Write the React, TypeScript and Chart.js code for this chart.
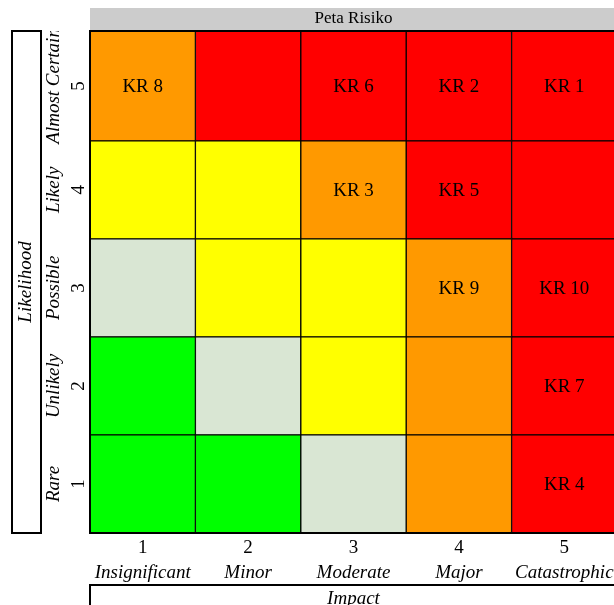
import { useEffect, useRef } from "react"
import { Chart, registerables } from "chart.js"

Chart.register(...registerables)

// Sumbu
const impactLevels = ["1", "2", "3", "4", "5"]
const impactNames = ["Insignificant", "Minor", "Moderate", "Major", "Catastrophic"]
const likelihoodLevels = [1, 2, 3, 4, 5]
const likelihoodNames = ["Rare", "Unlikely", "Possible", "Likely", "Almost Certain"]

// Tingkat risiko per baris (likelihood 1..5), kolom = impact 1..5
const levelRow1 = ["low", "low", "medium", "high", "extreme"]
const levelRow2 = ["low", "medium", "moderate", "high", "extreme"]
const levelRow3 = ["medium", "moderate", "moderate", "high", "extreme"]
const levelRow4 = ["moderate", "moderate", "high", "extreme", "extreme"]
const levelRow5 = ["high", "extreme", "extreme", "extreme", "extreme"]
const levelRows = [levelRow1, levelRow2, levelRow3, levelRow4, levelRow5]

const levelColors: Record<string, string> = {
  low: "#00FF00",
  medium: "#D9E6D3",
  moderate: "#FFFF00",
  high: "#FF9900",
  extreme: "#FF0000",
}

// Risiko kunci
const riskIds = ["KR 1", "KR 2", "KR 3", "KR 4", "KR 5", "KR 6", "KR 7", "KR 8", "KR 9", "KR 10"]
const riskImpact = [5, 4, 3, 5, 4, 3, 5, 1, 4, 5]
const riskLikelihood = [5, 5, 4, 1, 4, 5, 2, 5, 3, 3]

const yMax = 5.62
const serif = "'Liberation Serif', 'Times New Roman', serif"

const rowRange = (r: number): [number, number] => [r - 0.5, r === 5 ? yMax : r + 0.5]

const decorPlugin = {
  id: "decor",
  afterDatasetsDraw(chart: any) {
    const { ctx, scales } = chart
    const x = scales.x
    const y = scales.y
    ctx.save()
    ctx.fillStyle = "#000"
    ctx.font = `19px ${serif}`
    ctx.textAlign = "center"
    ctx.textBaseline = "middle"
    riskIds.forEach((id, i) => {
      const [lo, hi] = rowRange(riskLikelihood[i])
      const cx = x.getPixelForValue(riskImpact[i] - 1)
      const cy = (y.getPixelForValue(lo) + y.getPixelForValue(hi)) / 2
      ctx.fillText(id, cx, cy + 1)
    })
    ctx.restore()
  },
  afterDraw(chart: any) {
    const { ctx, scales, chartArea, width } = chart
    const x = scales.x
    const y = scales.y
    const { left, top, right, bottom } = chartArea
    ctx.save()
    ctx.fillStyle = "#000"
    ctx.textAlign = "center"
    ctx.textBaseline = "middle"

    // strip judul
    ctx.fillStyle = "#CCCCCC"
    ctx.fillRect(left, 8, width - left, top - 9)
    ctx.fillStyle = "#000"
    ctx.font = `17px ${serif}`
    ctx.fillText("Peta Risiko", (left + right) / 2, 19)

    // label sumbu y
    ctx.save()
    ctx.beginPath()
    ctx.rect(0, top, left, bottom - top)
    ctx.clip()
    likelihoodLevels.forEach((r, i) => {
      const [lo, hi] = rowRange(r)
      const cy = (y.getPixelForValue(lo) + y.getPixelForValue(hi)) / 2
      ctx.save()
      ctx.translate(54, cy)
      ctx.rotate(-Math.PI / 2)
      ctx.font = `italic 19px ${serif}`
      ctx.fillText(likelihoodNames[i], 0, 0)
      ctx.restore()
      ctx.save()
      ctx.translate(79, cy)
      ctx.rotate(-Math.PI / 2)
      ctx.font = `19px ${serif}`
      ctx.fillText(String(r), 0, 0)
      ctx.restore()
    })
    ctx.restore()

    // kotak Likelihood
    ctx.lineWidth = 2
    ctx.strokeStyle = "#000"
    ctx.strokeRect(12, top, 29, bottom - top)
    ctx.save()
    ctx.translate(26, (top + bottom) / 2)
    ctx.rotate(-Math.PI / 2)
    ctx.font = `italic 19px ${serif}`
    ctx.fillText("Likelihood", 0, 0)
    ctx.restore()

    // label sumbu x
    impactLevels.forEach((lv, i) => {
      const cx = x.getPixelForValue(i)
      ctx.font = `19px ${serif}`
      ctx.fillText(lv, cx, 548)
      ctx.font = `italic 19px ${serif}`
      ctx.fillText(impactNames[i], cx, 573)
    })

    // kotak Impact
    ctx.beginPath()
    ctx.moveTo(left, chart.height + 2)
    ctx.lineTo(left, 585)
    ctx.lineTo(width + 2, 585)
    ctx.stroke()
    ctx.font = `italic 19px ${serif}`
    ctx.fillText("Impact", (left + right) / 2, 599)

    // bingkai plot
    ctx.lineWidth = 2
    ctx.strokeRect(left, top, right - left, bottom - top)
    ctx.restore()
  },
}

export default function App() {
  const chartRef = useRef<HTMLCanvasElement>(null)
  const chartInstance = useRef<Chart | null>(null)

  useEffect(() => {
    if (!chartRef.current) return
    if (chartInstance.current) chartInstance.current.destroy()

    const ctx = chartRef.current.getContext("2d")
    if (!ctx) return

    chartInstance.current = new Chart(ctx, {
      type: "bar",
      data: {
        labels: impactLevels,
        datasets: likelihoodLevels.map((r, i) => ({
          label: likelihoodNames[i],
          data: impactLevels.map(() => rowRange(r)),
          backgroundColor: levelRows[i].map((lv) => levelColors[lv]),
          borderColor: "#000",
          borderWidth: 1,
          borderSkipped: false,
          barPercentage: 1,
          categoryPercentage: 1,
          grouped: false,
        })) as any,
      },
      options: {
        responsive: false,
        animation: false,
        layout: { padding: { left: 90, top: 31, right: 8, bottom: 72 } },
        scales: {
          x: { display: false, offset: true },
          y: { display: false, type: "linear", min: 0.5, max: yMax },
        },
        plugins: {
          legend: { display: false },
          tooltip: { enabled: false },
          title: { display: false },
        },
      },
      plugins: [decorPlugin],
    })

    return () => {
      if (chartInstance.current) {
        chartInstance.current.destroy()
        chartInstance.current = null
      }
    }
  }, [])

  return (
    <div
      style={{
        position: "fixed",
        left: 0,
        top: 0,
        width: 614,
        height: 605,
        overflow: "hidden",
        background: "#fff",
      }}
    >
      <canvas ref={chartRef} width={625} height={605} style={{ display: "block" }} />
    </div>
  )
}
